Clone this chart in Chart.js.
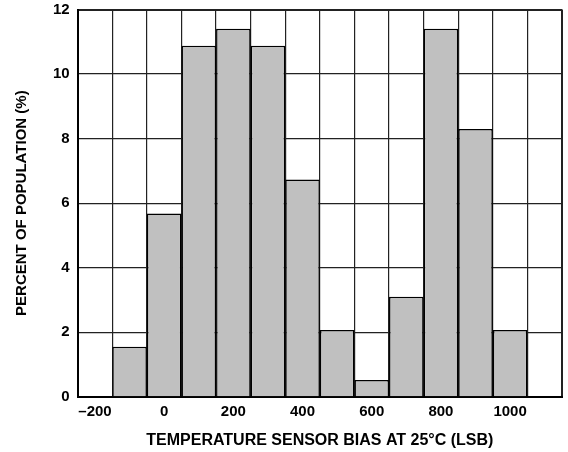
<!DOCTYPE html>
<html>
<head>
<meta charset="utf-8">
<script src="https://cdn.jsdelivr.net/npm/chart.js@4/dist/chart.umd.min.js"></script>
<style>
html,body{margin:0;padding:0;background:#fff;}
#wrap{width:568px;height:452px;}
</style>
</head>
<body>
<div id="wrap"><canvas id="c" width="568" height="452"></canvas></div>
<script>
const binCenters = [-100, 0, 100, 200, 300, 400, 500, 600, 700, 800, 900, 1000];
const percentValues = [1.55, 5.68, 10.88, 11.4, 10.88, 6.73, 2.07, 0.52, 3.1, 11.4, 8.3, 2.07];
const xLabelValues = [-200, 0, 200, 400, 600, 800, 1000];
const xTitle = 'TEMPERATURE SENSOR BIAS AT 25°C (LSB)';
const yTitle = 'PERCENT OF POPULATION (%)';

const FONT = '"Liberation Sans", Arial, sans-serif';

new Chart(document.getElementById('c'), {
  type: 'bar',
  data: {
    datasets: [{
      data: binCenters.map((x, i) => ({x: x, y: percentValues[i]})),
      backgroundColor: '#c0c0c0',
      borderColor: '#000',
      borderWidth: 1.5,
      borderSkipped: 'start',
      barPercentage: 2,
      categoryPercentage: 1
    }]
  },
  options: {
    responsive: false,
    animation: false,
    devicePixelRatio: 1,
    layout: {padding: {top: 0, right: 6, left: 13, bottom: 2}},
    plugins: {legend: {display: false}, tooltip: {enabled: false}},
    scales: {
      x: {
        type: 'linear',
        offset: false,
        min: -250,
        max: 1150,
        grid: {
          offset: false,
          drawTicks: false,
          color: (ctx) => {
            const v = ctx.tick ? ctx.tick.value : 0;
            return (((v + 250) % 100) === 0) ? '#222' : 'rgba(0,0,0,0)';
          },
          lineWidth: (ctx) => {
            const v = ctx.tick ? ctx.tick.value : 0;
            return (v === 1150 || v === -250) ? 2 : 1.2;
          }
        },
        border: {display: true, color: '#000', width: 2},
        ticks: {
          stepSize: 50,
          autoSkip: false,
          maxRotation: 0,
          padding: 6,
          color: '#000',
          font: {family: FONT, size: 15, weight: 'bold'},
          callback: (v) => xLabelValues.includes(v) ? (v < 0 ? '\u2013' + Math.abs(v) : String(v)) : ''
        },
        title: {
          display: true,
          text: xTitle,
          color: '#000',
          font: {family: FONT, size: 16, weight: 'bold'},
          padding: {top: 4, bottom: 0}
        }
      },
      y: {
        min: 0,
        max: 12,
        grid: {
          drawTicks: false,
          color: (ctx) => '#222',
          lineWidth: (ctx) => (ctx.tick && ctx.tick.value === 12) ? 2 : 1.2
        },
        border: {display: true, color: '#000', width: 2},
        ticks: {
          stepSize: 2,
          padding: 8,
          color: '#000',
          font: {family: FONT, size: 15, weight: 'bold', lineHeight: 0.2}
        },
        title: {
          display: true,
          text: yTitle,
          color: '#000',
          font: {family: FONT, size: 15, weight: 'bold'},
          padding: {top: 0, bottom: 14}
        }
      }
    }
  }
});
</script>
</body>
</html>
